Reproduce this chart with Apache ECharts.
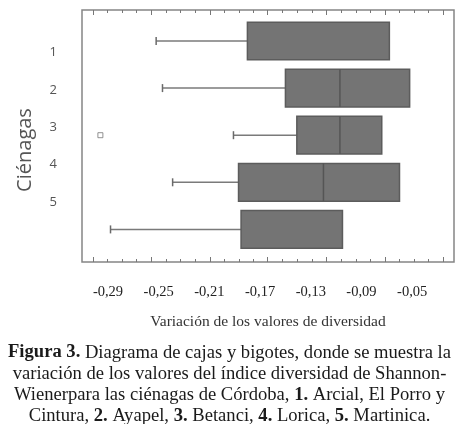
<!DOCTYPE html>
<html>
<head>
<meta charset="utf-8">
<script src="https://cdn.jsdelivr.net/npm/echarts@6/dist/echarts.min.js"></script>
<style>
  html, body { margin: 0; padding: 0; background: #fff; }
  #chart { width: 459px; height: 424px; }
</style>
</head>
<body>
<div id="chart"></div>
<script>
// ciénagas 1..5
const cienagas = [1, 2, 3, 4, 5];
const whiskerLow = [-0.252, -0.247, -0.191, -0.239, -0.288];
const q1 = [-0.180, -0.150, -0.141, -0.187, -0.185];
const median = [null, -0.107, -0.107, -0.120, null];
const q3 = [-0.068, -0.052, -0.074, -0.060, -0.105];
const outliers = [[-0.296, 3]];

// tick labels of the x axis (as printed under the frame)
const xLabels = [-0.29, -0.25, -0.21, -0.17, -0.13, -0.09, -0.05];
// tick marks along the frame (they do not line up with the labels)
const majorTicks = [-0.302, -0.256, -0.2095, -0.164, -0.1175, -0.0715, -0.0255];

var minorTicks = [];
for (var k = 0; k < majorTicks.length - 1; k++) {
    var step = (majorTicks[k + 1] - majorTicks[k]) / 4;
    for (var j = 1; j < 4; j++) minorTicks.push(majorTicks[k] + step * j);
}

var chartDom = document.getElementById('chart');
var myChart = echarts.init(chartDom, null, { renderer: 'canvas' });

var boxData = cienagas.map(function (c, i) {
    return [c, whiskerLow[i], q1[i], median[i] === null ? '-' : median[i], q3[i]];
});

var xMin = -0.3105, xMax = -0.017;
var frameColor = '#858585';

function tickAxis(pos, vals, len) {
    return {
        type: 'value', position: pos, min: xMin, max: xMax,
        axisLine: { show: false },
        axisLabel: { show: false },
        splitLine: { show: false },
        axisTick: {
            show: true, inside: true, length: len, customValues: vals,
            lineStyle: { color: '#777', width: 1 }
        }
    };
}

var option = {
    animation: false,
    title: {
        text: '{b|Figura 3.} Diagrama de cajas y bigotes, donde se muestra la\n' +
            'variación de los valores del índice diversidad de Shannon-\n' +
            'Wienerpara las ciénagas de Córdoba, {b|1.} Arcial, El Porro y\n' +
            'Cintura, {b|2.} Ayapel, {b|3.} Betanci, {b|4.} Lorica, {b|5.} Martinica.',
        left: 229.5,
        top: 342,
        padding: 0,
        textAlign: 'center',
        textStyle: {
            fontFamily: 'Liberation Serif',
            fontSize: 18.6,
            fontWeight: 'normal',
            color: '#1a1a1a',
            lineHeight: 21.3,
            rich: {
                b: { fontFamily: 'Liberation Serif', fontSize: 18.6, fontWeight: 'bold', color: '#1a1a1a', lineHeight: 21.3 }
            }
        }
    },
    grid: {
        left: 82, right: 5, top: 10, bottom: 162,
        show: true, borderColor: frameColor, borderWidth: 1.5,
        containLabel: false
    },
    xAxis: [
        {
            type: 'value', position: 'bottom', min: xMin, max: xMax,
            axisLine: { show: false },
            axisTick: { show: false },
            splitLine: { show: false },
            axisLabel: {
                customValues: xLabels,
                margin: 23,
                fontFamily: 'Liberation Serif',
                fontSize: 14.5,
                color: '#222',
                formatter: function (v) { return v.toFixed(2).replace('.', ','); }
            },
            name: 'Variación de los valores de diversidad',
            nameLocation: 'middle',
            nameGap: 52,
            nameTextStyle: { fontFamily: 'Liberation Serif', fontSize: 15.5, color: '#333' }
        },
        tickAxis('bottom', majorTicks, 5),
        tickAxis('bottom', minorTicks, 3),
        tickAxis('top', majorTicks, 5),
        tickAxis('top', minorTicks, 3)
    ],
    yAxis: [
        {
            type: 'value', inverse: true, min: 0.342, max: 5.692, show: false
        },
        {
            type: 'value', inverse: true, min: -0.145, max: 6.61, position: 'left',
            axisLine: { show: false },
            axisTick: { show: false },
            splitLine: { show: false },
            axisLabel: {
                customValues: cienagas,
                margin: 25,
                fontFamily: 'Open Sans',
                fontSize: 13,
                color: '#555'
            },
            name: 'Ciénagas',
            nameLocation: 'middle',
            nameRotate: 90,
            nameGap: 47,
            nameTextStyle: { fontFamily: 'Open Sans', fontSize: 20, color: '#555', padding: [0, 28, 0, 0] }
        }
    ],
    series: [
        {
            type: 'custom',
            xAxisIndex: 0,
            yAxisIndex: 0,
            data: boxData,
            encode: { x: [1, 2, 3, 4], y: 0 },
            renderItem: function (params, api) {
                var c = api.value(0);
                var pLow = api.coord([api.value(1), c]);
                var pQ1 = api.coord([api.value(2), c]);
                var pQ3 = api.coord([api.value(4), c]);
                var half = api.size([0, 0.4])[1];
                var children = [
                    { type: 'line', shape: { x1: pLow[0], y1: pLow[1], x2: pQ1[0], y2: pLow[1] },
                      style: { stroke: '#7a7a7a', lineWidth: 1.5 } },
                    { type: 'line', shape: { x1: pLow[0], y1: pLow[1] - 4, x2: pLow[0], y2: pLow[1] + 4 },
                      style: { stroke: '#6a6a6a', lineWidth: 1.5 } },
                    { type: 'rect', shape: { x: pQ1[0], y: pQ1[1] - half, width: pQ3[0] - pQ1[0], height: half * 2 },
                      style: { fill: '#747474', stroke: '#5c5c5c', lineWidth: 1.5 } }
                ];
                var med = api.value(3);
                if (!isNaN(med)) {
                    var pM = api.coord([med, c]);
                    children.push({ type: 'line', shape: { x1: pM[0], y1: pM[1] - half, x2: pM[0], y2: pM[1] + half },
                        style: { stroke: '#555', lineWidth: 1.5 } });
                }
                return { type: 'group', children: children };
            }
        },
        {
            type: 'scatter',
            xAxisIndex: 0,
            yAxisIndex: 0,
            data: outliers,
            symbol: 'rect',
            symbolSize: 5,
            itemStyle: { color: '#fff', borderColor: '#777', borderWidth: 1 }
        }
    ]
};

option && myChart.setOption(option);
</script>
</body>
</html>
